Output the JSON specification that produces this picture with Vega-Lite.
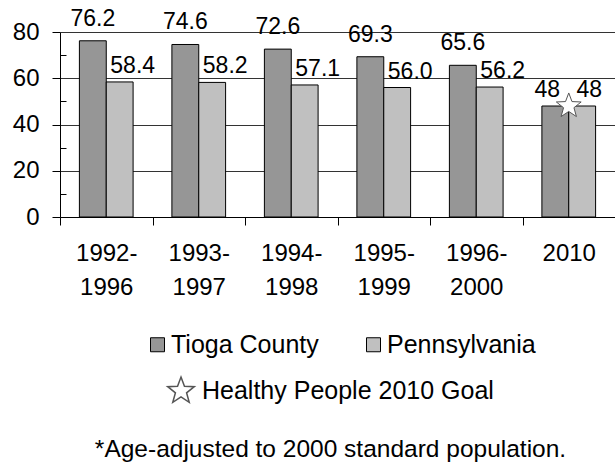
{
  "$schema": "https://vega.github.io/schema/vega-lite/v6.json",
  "width": 555,
  "height": 185,
  "autosize": {"type": "none"},
  "padding": {"left": 60, "top": 32, "right": 0, "bottom": 253},
  "config": {
    "view": {"stroke": null},
    "font": "Liberation Sans",
    "axis": {"labelFont": "Liberation Sans", "titleFont": "Liberation Sans", "labelColor": "black", "titleColor": "black"},
    "legend": {"labelFont": "Liberation Sans", "labelColor": "black", "labelLimit": 400, "padding": 0}
  },
  "data": {
    "values": [
      {"period": "1992-1996", "series": "Tioga County", "value": 76.2},
      {"period": "1992-1996", "series": "Pennsylvania", "value": 58.4},
      {"period": "1993-1997", "series": "Tioga County", "value": 74.6},
      {"period": "1993-1997", "series": "Pennsylvania", "value": 58.2},
      {"period": "1994-1998", "series": "Tioga County", "value": 72.6},
      {"period": "1994-1998", "series": "Pennsylvania", "value": 57.1},
      {"period": "1995-1999", "series": "Tioga County", "value": 69.3},
      {"period": "1995-1999", "series": "Pennsylvania", "value": 56.0},
      {"period": "1996-2000", "series": "Tioga County", "value": 65.6},
      {"period": "1996-2000", "series": "Pennsylvania", "value": 56.2},
      {"period": "2010", "series": "Tioga County", "value": 48},
      {"period": "2010", "series": "Pennsylvania", "value": 48},
      {"period": "2010", "series": "Healthy People 2010 Goal", "value": 48}
    ]
  },
  "encoding": {
    "x": {
      "field": "period",
      "type": "nominal",
      "sort": null,
      "scale": {"paddingInner": 0, "paddingOuter": 0},
      "axis": {
        "labelAngle": 0,
        "labelFontSize": 24,
        "labelExpr": "length(datum.label) > 4 ? [slice(datum.label, 0, 5), slice(datum.label, 5)] : datum.label",
        "labelLineHeight": 34,
        "labelBaseline": "top",
        "labelPadding": 16,
        "tickBand": "extent",
        "tickSize": 8,
        "tickColor": "black",
        "domainColor": "black",
        "grid": false,
        "title": "*Age-adjusted to 2000 standard population.",
        "titleFontSize": 24.5,
        "titleFontWeight": "normal",
        "titleBaseline": "alphabetic",
        "titleY": 239,
        "titleX": 270,
        "titleAlign": "center"
      }
    },
    "y": {
      "field": "value",
      "type": "quantitative",
      "scale": {"domain": [0, 80], "nice": false},
      "axis": {
        "title": null,
        "values": [0, 10, 20, 30, 40, 50, 60, 70, 80],
        "labelExpr": "datum.value % 20 === 0 ? datum.label : ''",
        "labelFontSize": 24,
        "labelPadding": 13,
        "tickSize": {"condition": {"test": "datum.value % 20 !== 0", "value": -6}, "value": 8},
        "tickColor": "black",
        "domainColor": "black",
        "grid": true,
        "gridColor": {"condition": {"test": "datum.value % 20 === 0", "value": "#333333"}, "value": "transparent"},
        "gridWidth": 1
      }
    }
  },
  "layer": [
    {
      "transform": [{"filter": "datum.series !== 'Healthy People 2010 Goal'"}],
      "mark": {"type": "bar", "stroke": "black", "strokeWidth": 1},
      "encoding": {
        "xOffset": {"field": "series", "type": "nominal", "scale": {"domain": ["Tioga County", "Pennsylvania"], "paddingOuter": 0.722, "paddingInner": 0}},
        "fill": {
          "field": "series",
          "type": "nominal",
          "scale": {"domain": ["Tioga County", "Pennsylvania"], "range": ["#969696", "#c0c0c0"]},
          "legend": {
            "orient": "none",
            "legendX": 85,
            "legendY": 300,
            "direction": "horizontal",
            "title": null,
            "symbolType": "square",
            "symbolSize": 196,
            "symbolStrokeColor": "black",
            "symbolStrokeWidth": 1,
            "labelFontSize": 25,
            "labelOffset": 1,
            "columnPadding": 42
          }
        }
      }
    },
    {
      "transform": [{"filter": "datum.series === 'Tioga County' && datum.period !== '2010'"}],
      "mark": {"type": "text", "fontSize": 23, "baseline": "alphabetic", "dy": -15, "color": "black"},
      "encoding": {
        "xOffset": {"field": "series", "type": "nominal", "scale": {"domain": ["Tioga County", "Pennsylvania"], "paddingOuter": 0.722, "paddingInner": 0}},
        "text": {"field": "value", "type": "quantitative", "format": ".1f"}
      }
    },
    {
      "transform": [{"filter": "datum.series === 'Pennsylvania' && datum.period !== '2010'"}],
      "mark": {"type": "text", "fontSize": 23, "baseline": "alphabetic", "dy": -9, "dx": 13, "color": "black"},
      "encoding": {
        "xOffset": {"field": "series", "type": "nominal", "scale": {"domain": ["Tioga County", "Pennsylvania"], "paddingOuter": 0.722, "paddingInner": 0}},
        "text": {"field": "value", "type": "quantitative", "format": ".1f"}
      }
    },
    {
      "transform": [{"filter": "datum.series === 'Tioga County' && datum.period === '2010'"}],
      "mark": {"type": "text", "fontSize": 23, "baseline": "alphabetic", "dy": -9, "dx": -8, "color": "black"},
      "encoding": {
        "xOffset": {"field": "series", "type": "nominal", "scale": {"domain": ["Tioga County", "Pennsylvania"], "paddingOuter": 0.722, "paddingInner": 0}},
        "text": {"field": "value", "type": "quantitative", "format": "d"}
      }
    },
    {
      "transform": [{"filter": "datum.series === 'Pennsylvania' && datum.period === '2010'"}],
      "mark": {"type": "text", "fontSize": 23, "baseline": "alphabetic", "dy": -9, "dx": 7, "color": "black"},
      "encoding": {
        "xOffset": {"field": "series", "type": "nominal", "scale": {"domain": ["Tioga County", "Pennsylvania"], "paddingOuter": 0.722, "paddingInner": 0}},
        "text": {"field": "value", "type": "quantitative", "format": "d"}
      }
    },
    {
      "transform": [{"filter": "datum.series === 'Healthy People 2010 Goal'"}],
      "mark": {"type": "point", "filled": true, "fill": "white", "stroke": "#555555", "strokeWidth": 1, "size": 680, "opacity": 1},
      "encoding": {
        "shape": {
          "field": "series",
          "type": "nominal",
          "scale": {"domain": ["Healthy People 2010 Goal"], "range": ["M0,-1L0.247,-0.34L0.951,-0.309L0.399,0.13L0.588,0.809L0,0.42L-0.588,0.809L-0.399,0.13L-0.951,-0.309L-0.247,-0.34Z"]},
          "legend": {
            "orient": "none",
            "legendX": 106,
            "legendY": 344,
            "title": null,
            "symbolSize": 780,
            "labelFontSize": 25,
            "labelOffset": 6,
            "encode": {
              "symbols": {
                "update": {
                  "fill": {"value": "white"},
                  "stroke": {"value": "#555555"},
                  "strokeWidth": {"value": 1},
                  "opacity": {"value": 1},
                  "fillOpacity": {"value": 1},
                  "strokeOpacity": {"value": 1}
                }
              }
            }
          }
        }
      }
    }
  ]
}
